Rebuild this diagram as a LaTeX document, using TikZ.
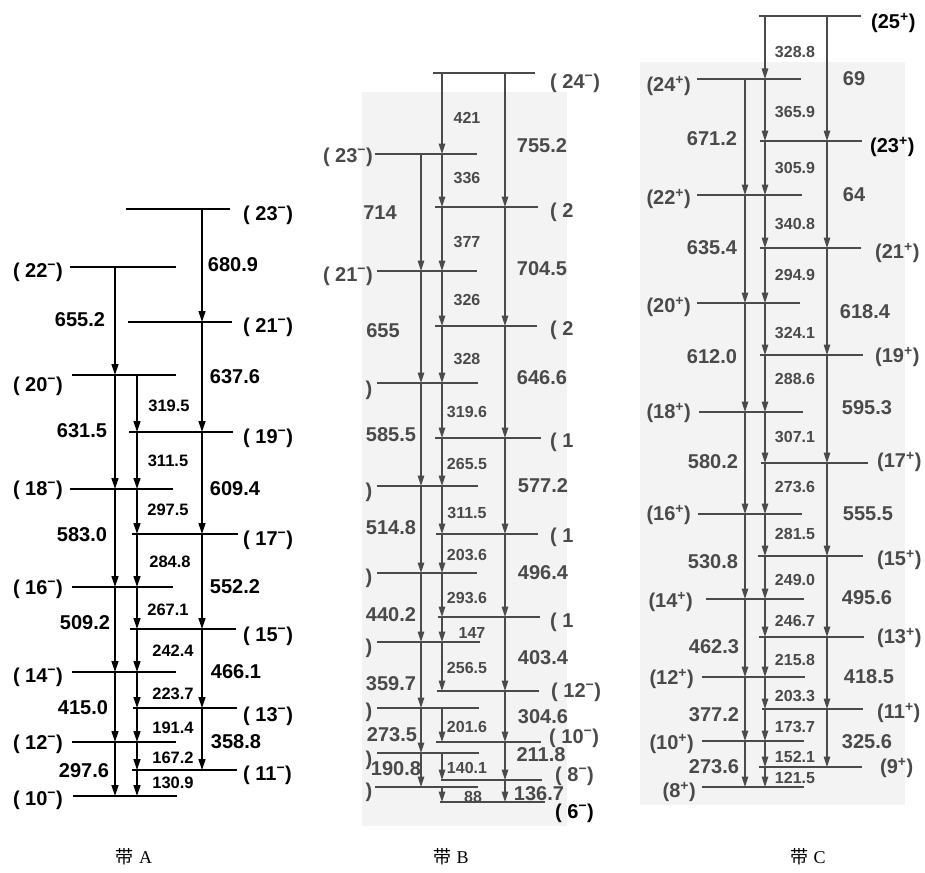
\documentclass[tikz,border=0pt]{standalone}
\usepackage{fontspec}
\setsansfont{Liberation Sans}
\newfontfamily\cjk{Noto Sans CJK SC}
\newfontfamily\serifL{Liberation Serif}
\usetikzlibrary{arrows.meta}
\definecolor{inkB}{HTML}{4A4A4A}
\definecolor{scan}{HTML}{F3F3F3}
\newcommand\supM{\textsuperscript{−}}
\newcommand\supP{\textsuperscript{+}}
\newcommand\Lv[5]{\coordinate (#2) at (#3,#5); \draw[#1] (#3,#5) -- (#4,#5);}
\begin{document}
\begin{tikzpicture}[x=1pt,y=-1pt,
  lvA/.style={line width=1.8pt,black},
  trA/.style={line width=1.3pt,black,-{Triangle[length=11pt,width=7pt]}},
  lvG/.style={line width=1.6pt,inkB},
  trG/.style={line width=1.2pt,inkB,-{Triangle[length=10.5pt,width=6.5pt]}},
  bigA/.style={font=\sffamily\bfseries\fontsize{20}{22}\selectfont,inner sep=0pt},
  smA/.style={font=\sffamily\bfseries\fontsize{16.5}{18}\selectfont,inner sep=0pt},
  bigG/.style={bigA,text=inkB},
  smG/.style={font=\sffamily\bfseries\fontsize{16}{18}\selectfont,inner sep=0pt,text=inkB},
  levK/.style={bigA,text=black},
  capt/.style={font=\fontsize{18}{20}\selectfont,inner sep=0pt}
]
\useasboundingbox[fill=white] (0,0) rectangle (925,872);
% faint scanned backgrounds
\fill[scan] (362,92) rectangle (567,826);
\fill[scan] (640,62) rectangle (905,805);

%================ Band A ================
\coordinate (colA1) at (115,0);
\coordinate (colA2) at (137,0);
\coordinate (colA3) at (202,0);
\Lv{lvA}{A23}{126}{230}{209}
\Lv{lvA}{A22}{70}{176}{267}
\Lv{lvA}{A21}{128}{232}{322}
\Lv{lvA}{A20}{72}{176}{375}
\Lv{lvA}{A19}{129}{233}{432}
\Lv{lvA}{A18}{70}{173}{489}
\Lv{lvA}{A17}{132}{238}{534}
\Lv{lvA}{A16}{72}{173}{587}
\Lv{lvA}{A15}{130}{236}{629}
\Lv{lvA}{A14}{72}{176}{672}
\Lv{lvA}{A13}{133}{237}{708}
\Lv{lvA}{A12}{72}{176}{742}
\Lv{lvA}{A11}{132}{237}{770}
\Lv{lvA}{A10}{73}{177}{796}
\foreach \a/\b in {A22/A20,A20/A18,A18/A16,A16/A14,A14/A12,A12/A10}
  \draw[trA] (colA1 |- \a) -- (colA1 |- \b);
\foreach \a/\b in {A20/A19,A19/A18,A18/A17,A17/A16,A16/A15,A15/A14,A14/A13,A13/A12,A12/A11,A11/A10}
  \draw[trA] (colA2 |- \a) -- (colA2 |- \b);
\foreach \a/\b in {A23/A21,A21/A19,A19/A17,A17/A15,A15/A13,A13/A11}
  \draw[trA] (colA3 |- \a) -- (colA3 |- \b);
% level labels A
\node[bigA,anchor=west] (lA23) at (243,215) {( 23\supM)};
\node[bigA,anchor=west] (lA21) at (243,327) {( 21\supM)};
\node[bigA,anchor=west] (lA19) at (243,438) {( 19\supM)};
\node[bigA,anchor=west] (lA17) at (243,540) {( 17\supM)};
\node[bigA,anchor=west] (lA15) at (243,636) {( 15\supM)};
\node[bigA,anchor=west] (lA13) at (243,716) {( 13\supM)};
\node[bigA,anchor=west] (lA11) at (243,775) {( 11\supM)};
\node[bigA,anchor=east] (lA22) at (63,272) {( 22\supM)};
\node[bigA,anchor=east] (lA20) at (63,386) {( 20\supM)};
\node[bigA,anchor=east] (lA18) at (63,490) {( 18\supM)};
\node[bigA,anchor=east] (lA16) at (63,589) {( 16\supM)};
\node[bigA,anchor=east] (lA14) at (63,677) {( 14\supM)};
\node[bigA,anchor=east] (lA12) at (63,744) {( 12\supM)};
\node[bigA,anchor=east] (lA10) at (63,800) {( 10\supM)};
% transition labels A
\foreach \n/\x/\y/\t in {1/233/265/680.9,2/80/320/655.2,3/235/377/637.6,4/82/431/631.5,
  5/235/489/609.4,6/82/535/583.0,7/235/587/552.2,8/85/623/509.2,9/236/672/466.1,
  10/83/708/415.0,11/236/742/358.8,12/84/771/297.6}
  \node[bigA] (gA\n) at (\x,\y) {\t};
\foreach \n/\x/\y/\t in {1/169/406/319.5,2/168/461/311.5,3/168/510/297.5,4/170/562/284.8,
  5/168/610/267.1,6/173/651/242.4,7/173/694/223.7,8/173/728/191.4,9/173/758/167.2,10/173/783/130.9}
  \node[smA] (sA\n) at (\x,\y) {\t};

%================ Band B ================
\coordinate (colB1) at (421,0);
\coordinate (colB2) at (442,0);
\coordinate (colB3) at (505,0);
\Lv{lvG}{B24}{433}{535}{73}
\Lv{lvG}{B23}{375}{477}{154}
\Lv{lvG}{B22}{435}{538}{207}
\Lv{lvG}{B21}{377}{477}{271}
\Lv{lvG}{B20}{435}{537}{326}
\Lv{lvG}{B19}{377}{478}{383}
\Lv{lvG}{B18}{435}{541}{438}
\Lv{lvG}{B17}{377}{478}{486}
\Lv{lvG}{B16}{436}{538}{534}
\Lv{lvG}{B15}{377}{477}{573}
\Lv{lvG}{B14}{438}{540}{617}
\Lv{lvG}{B13}{377}{480}{642}
\Lv{lvG}{B12}{437}{539}{691}
\Lv{lvG}{B11}{377}{479}{708}
\Lv{lvG}{B10}{436}{541}{742}
\Lv{lvG}{B9}{377}{479}{753}
\Lv{lvG}{B8}{441}{542}{780}
\Lv{lvG}{B7}{375}{478}{787}
\Lv{lvG}{B6}{440}{545}{802}
\foreach \a/\b in {B23/B21,B21/B19,B19/B17,B17/B15,B15/B13,B13/B11,B11/B9,B9/B7}
  \draw[trG] (colB1 |- \a) -- (colB1 |- \b);
\foreach \a/\b in {B24/B23,B23/B22,B22/B21,B21/B20,B20/B19,B19/B18,B18/B17,B17/B16,B16/B15,B15/B14,B14/B13,B13/B12,B11/B10,B9/B8,B7/B6}
  \draw[trG] (colB2 |- \a) -- (colB2 |- \b);
\foreach \a/\b in {B24/B22,B22/B20,B20/B18,B18/B16,B16/B14,B14/B12,B12/B10,B10/B8,B8/B6}
  \draw[trG] (colB3 |- \a) -- (colB3 |- \b);
% level labels B
\node[bigG,anchor=west] (lB24) at (550,83) {( 24\supM)};
\node[bigG,anchor=east] (lB23) at (373,157) {( 23\supM)};
\node[bigG,anchor=west] (lB22) at (550,212) {( 2};
\node[bigG,anchor=east] (lB21) at (373,276) {( 21\supM)};
\node[bigG,anchor=west] (lB20) at (550,330) {( 2};
\node[bigG] (lB19) at (369,390) {)};
\node[bigG,anchor=west] (lB18) at (550,442) {( 1};
\node[bigG] (lB17) at (369,492) {)};
\node[bigG,anchor=west] (lB16) at (550,537) {( 1};
\node[bigG] (lB15) at (369,578) {)};
\node[bigG,anchor=west] (lB14) at (550,622) {( 1};
\node[bigG] (lB13) at (369,648) {)};
\node[bigG,anchor=west] (lB12) at (551,692) {( 12\supM)};
\node[bigG] (lB11) at (369,712) {)};
\node[bigG,anchor=west] (lB10) at (549,738) {( 10\supM)};
\node[bigG] (lB9) at (369,760) {)};
\node[bigG,anchor=west] (lB8) at (555,776) {( 8\supM)};
\node[bigG] (lB7) at (369,792) {)};
\node[levK,anchor=west] (lB6) at (555,813) {( 6\supM)};
% transition labels B
\foreach \n/\x/\y/\t in {1/542/146/755.2,2/380/213/714,3/542/269/704.5,4/383/331/655,
  5/542/378/646.6,6/391/435/585.5,7/543/486/577.2,8/391/528/514.8,9/543/573/496.4,
  10/391/615/440.2,11/543/658/403.4,12/391/684/359.7,13/543/717/304.6,14/392/735/273.5,
  15/541/755/211.8,16/396/769/190.8,17/539/794/136.7}
  \node[bigG] (gB\n) at (\x,\y) {\t};
\foreach \n/\x/\y/\t in {1/467/118/421,2/467/178/336,3/467/242/377,4/467/300/326,
  5/467/359/328,6/467/412/319.6,7/467/464/265.5,8/467/513/311.5,9/467/555/203.6,
  10/467/598/293.6,11/472/633/147,12/467/668/256.5,13/467/727/201.6,14/467/768/140.1,15/473/797/88}
  \node[smG] (sB\n) at (\x,\y) {\t};

%================ Band C ================
\coordinate (colC1) at (745,0);
\coordinate (colC2) at (765,0);
\coordinate (colC3) at (827,0);
\Lv{lvG}{C25}{759}{861}{16}
\Lv{lvG}{C24}{697}{801}{79}
\Lv{lvG}{C23}{760}{862}{141}
\Lv{lvG}{C22}{697}{802}{195}
\Lv{lvG}{C21}{760}{861}{248}
\Lv{lvG}{C20}{697}{800}{303}
\Lv{lvG}{C19}{760}{863}{355}
\Lv{lvG}{C18}{699}{803}{412}
\Lv{lvG}{C17}{761}{868}{463}
\Lv{lvG}{C16}{698}{802}{514}
\Lv{lvG}{C15}{758}{863}{556}
\Lv{lvG}{C14}{706}{804}{599}
\Lv{lvG}{C13}{759}{864}{637}
\Lv{lvG}{C12}{702}{805}{677}
\Lv{lvG}{C11}{762}{863}{709}
\Lv{lvG}{C10}{702}{804}{741}
\Lv{lvG}{C9}{759}{862}{767}
\Lv{lvG}{C8}{702}{804}{787}
\foreach \a/\b in {C24/C22,C22/C20,C20/C18,C18/C16,C16/C14,C14/C12,C12/C10,C10/C8}
  \draw[trG] (colC1 |- \a) -- (colC1 |- \b);
\foreach \a/\b in {C25/C24,C24/C23,C23/C22,C22/C21,C21/C20,C20/C19,C19/C18,C18/C17,C17/C16,C16/C15,C15/C14,C14/C13,C13/C12,C12/C11,C11/C10,C10/C9,C9/C8}
  \draw[trG] (colC2 |- \a) -- (colC2 |- \b);
\foreach \a/\b in {C25/C23,C23/C21,C21/C19,C19/C17,C17/C15,C15/C13,C13/C11,C11/C9}
  \draw[trG] (colC3 |- \a) -- (colC3 |- \b);
% level labels C
\node[levK,anchor=west] (lC25) at (871,23) {(25\supP)};
\node[bigG,anchor=east] (lC24) at (691,86) {(24\supP)};
\node[levK,anchor=west] (lC23) at (870,147) {(23\supP)};
\node[bigG,anchor=east] (lC22) at (691,199) {(22\supP)};
\node[bigG,anchor=west] (lC21) at (875,253) {(21\supP)};
\node[bigG,anchor=east] (lC20) at (691,307) {(20\supP)};
\node[bigG,anchor=west] (lC19) at (875,357) {(19\supP)};
\node[bigG,anchor=east] (lC18) at (691,413) {(18\supP)};
\node[bigG,anchor=west] (lC17) at (877,462) {(17\supP)};
\node[bigG,anchor=east] (lC16) at (691,515) {(16\supP)};
\node[bigG,anchor=west] (lC15) at (877,560) {(15\supP)};
\node[bigG,anchor=east] (lC14) at (693,602) {(14\supP)};
\node[bigG,anchor=west] (lC13) at (877,638) {(13\supP)};
\node[bigG,anchor=east] (lC12) at (694,679) {(12\supP)};
\node[bigG,anchor=west] (lC11) at (877,713) {(11\supP)};
\node[bigG,anchor=east] (lC10) at (694,744) {(10\supP)};
\node[bigG,anchor=west] (lC9) at (880,768) {(9\supP)};
\node[bigG,anchor=east] (lC8) at (696,792) {(8\supP)};
% transition labels C
\foreach \n/\x/\y/\t in {1/854/79/69,2/712/139/671.2,3/854/195/64,4/712/248/635.4,
  5/865/312/618.4,6/712/357/612.0,7/867/408/595.3,8/713/462/580.2,9/868/514/555.5,
  10/713/562/530.8,11/867/598/495.6,12/714/647/462.3,13/869/677/418.5,14/714/715/377.2,
  15/867/742/325.6,16/714/767/273.6}
  \node[bigG] (gC\n) at (\x,\y) {\t};
\foreach \n/\y/\t in {1/52/328.8,2/112/365.9,3/168/305.9,4/224/340.8,5/275/294.9,
  6/333/324.1,7/379/288.6,8/437/307.1,9/487/273.6,10/534/281.5,11/580/249.0,
  12/621/246.7,13/660/215.8,14/696/203.3,15/727/173.7,16/757/152.1,17/778/121.5}
  \node[smG] (sC\n) at (795,\y) {\t};

%================ captions ================
\node[capt] (capA) at (134,857) {{\cjk 带}\ {\serifL A}};
\node[capt] (capB) at (451,857) {{\cjk 带}\ {\serifL B}};
\node[capt] (capC) at (808,857) {{\cjk 带}\ {\serifL C}};
\end{tikzpicture}
\end{document}
